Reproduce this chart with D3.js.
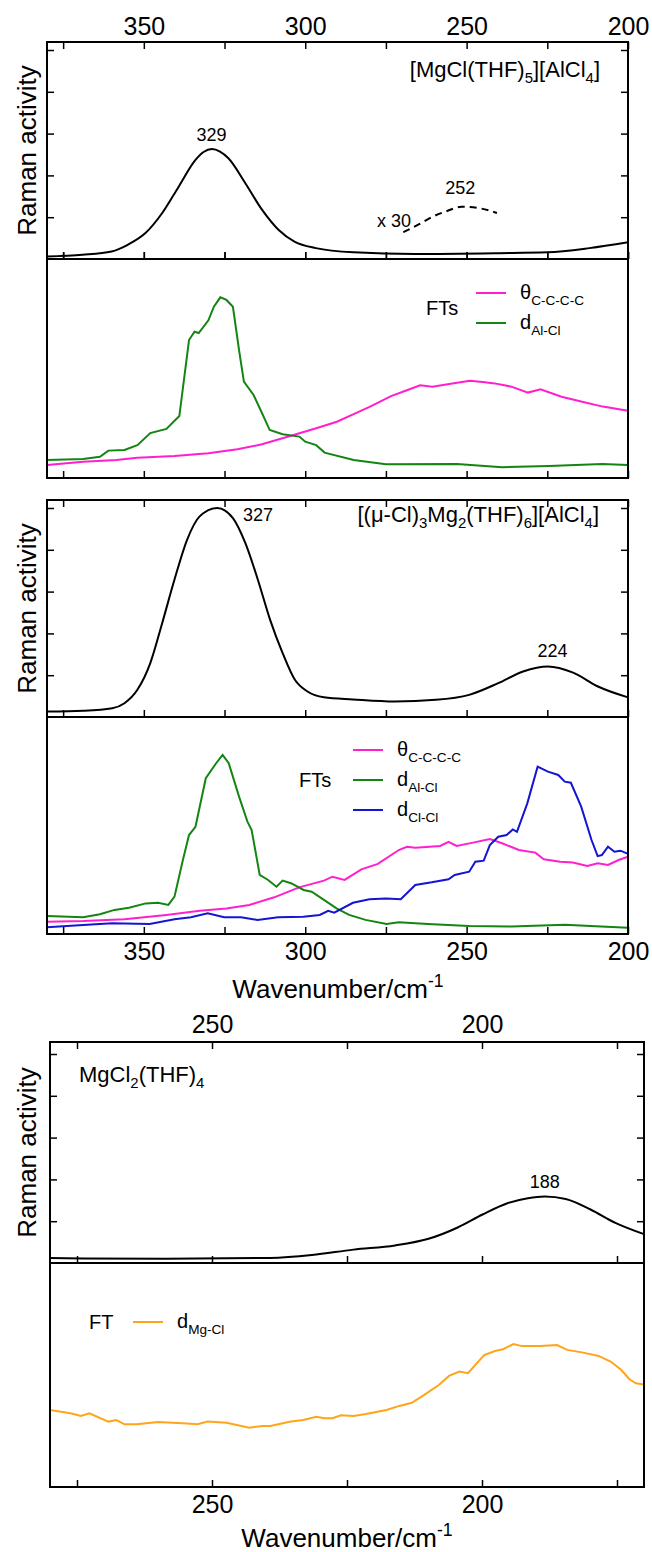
<!DOCTYPE html>
<html lang="en">
<head>
<meta charset="utf-8">
<title>Raman activity and FTs</title>
<script src="https://d3js.org/d3.v7.min.js"></script>
<style>
  body { margin: 0; background: #fff; font-family: "Liberation Sans", Arial, sans-serif; }
  .tick line { stroke: #000; stroke-width: 1.5; }
  .tick text { fill: #000; font-family: "Liberation Sans", Arial, sans-serif; }
</style>
</head>
<body>
<div id="vis"></div>
<script>
// tick values
const upperTicks = [375, 350, 325, 300, 275, 250, 225, 200];
const upperLabels = [350, 300, 250, 200];
const lowerTicks = [275, 250, 225, 200, 175];
const lowerLabels = [250, 200];
const ramanTicks = [1, 2, 3, 4, 5];

// [wavenumber, value]
// [MgCl(THF)5][AlCl4] Raman
const ramanMono = [[380,0.06],[369,0.1],[360,0.18],[355,0.34],[349.5,0.62],[344.3,1.1],[339.2,1.73],[334,2.37],
  [331.5,2.56],[328.9,2.63],[326.4,2.57],[323.8,2.41],[318.6,1.82],[313.4,1.18],[308.3,0.7],[303.2,0.41],
  [296.7,0.26],[285,0.16],[266,0.12],[240,0.14],[225,0.16],[212,0.26],[200,0.4]];
const ramanMonoX30 = [[269.6,0.64],[265,0.82],[260.6,1.01],[256,1.15],[251.6,1.25],[246.4,1.22],[240.6,1.1]];

// FTs for the same compound (0..100)
const ftTheta1 = [[380,5.9],[368.8,7.4],[358.5,8.2],[352,9.3],[340.5,10],[330,11.3],[321,13.1],[313.4,15.4],
  [304.4,19.3],[296.6,22.7],[290.2,25.7],[285,29.2],[279.9,32.6],[273.4,37.4],[268.3,40.2],[264.4,42.3],
  [260.6,41.7],[255.4,42.9],[249,44.4],[245,43.8],[241.3,43.2],[236.1,41.7],[231,39],[227.1,40.5],
  [220.6,37.1],[214.2,34.8],[207.8,32.6],[200,30.7]];
const ftAlCl1 = [[380,8.2],[368.8,8.7],[363.6,9.7],[361,12.5],[356,12.8],[352,15],[348,20.5],[343,22.4],
  [339,28.3],[336,63],[334.3,66.8],[333,66.2],[330,72],[328.3,78.2],[326.3,82.5],[324.4,81.3],[322.4,78.2],
  [320.5,58.4],[319,44],[316,37.9],[313.4,29.7],[311,21.9],[307,20],[301.8,18.9],[300,16.6],[296.6,15],
  [294,11.6],[285,8.2],[275,6.3],[253,6.4],[239,4.9],[224.5,5.5],[208,6.4],[200,5.9]];

// [(mu-Cl)3Mg2(THF)6][AlCl4] Raman
const ramanDimer = [[380,0.13],[368.8,0.15],[359.8,0.21],[356,0.33],[352,0.65],[348,1.29],[344.3,2.25],
  [340.5,3.29],[336.6,4.24],[332.7,4.8],[327.3,5.0],[322.4,4.76],[318.6,4.17],[314.7,3.29],[310.9,2.33],
  [307,1.53],[303.2,0.89],[299.3,0.61],[294.2,0.47],[285.2,0.42],[272.3,0.37],[259.5,0.41],[249.2,0.53],
  [240.2,0.81],[232.5,1.09],[224.8,1.21],[217,1.06],[209.3,0.73],[200,0.47]];

// FTs for the dimer
const ftTheta2 = [[380,5.7],[368.8,6],[356,6.8],[343,8.8],[332.7,10.7],[324.4,11.7],[317.3,13.4],[309.6,16.9],
  [301.9,21.5],[294.2,24.6],[291.6,26.4],[287.8,24.9],[282.6,29.8],[277.5,32.3],[271,38.7],[268.5,40.2],
  [265.9,39.8],[258.2,40.6],[255.6,42.5],[253.1,40.6],[248,42.1],[242.8,43.8],[239,41.8],[233.8,38.7],
  [228.7,37.5],[226.1,34.4],[221,33.3],[217.1,32.9],[212.6,31.3],[209.4,32.6],[206.2,31.8],[202.9,34.1],[200,35.6]];
const ftAlCl2 = [[380,8.3],[368.8,7.7],[363.6,9.1],[359.1,11.1],[354.6,12.1],[349.4,14.1],[345.6,14.4],
  [342.4,13.4],[340.5,17.2],[337.9,34.1],[336,45.6],[334,49.4],[330.8,71.8],[327.6,78.7],[325.6,82.5],
  [323.7,78.7],[320.5,63.3],[317.9,51.8],[316.6,47.9],[314.1,27.2],[311.5,24.9],[308.9,21.8],[307,24.6],
  [304.4,23.4],[300.5,20.3],[298,19.5],[294.2,15.7],[290.3,11.8],[286.4,8.8],[281.3,6.5],[274.8,4.6],
  [271,5.4],[262,4.6],[249.2,3.7],[236.1,3.4],[219.5,4.3],[211.7,3.7],[200,2.9]];
const ftClCl2 = [[380,3.1],[368.8,4.1],[359.8,4.9],[348.2,4.6],[340.5,6.8],[335.4,7.7],[330.2,9.5],[325.1,7.7],
  [319.9,7.7],[314.8,6.5],[308.4,7.7],[300.6,8],[295.5,8.8],[292.9,10.7],[291,9.8],[285.2,14.4],[280.1,16],
  [274.9,16.4],[270.4,16],[265.9,22.6],[260.8,23.8],[255.6,25.2],[253.7,27.2],[249.2,28.7],[247.3,33.3],
  [244.7,33.8],[242.8,41],[240.2,44.8],[237.6,45.6],[235.7,48.2],[234.4,47.1],[231.2,60.2],[228,77.1],
  [224.8,74.8],[221.6,73.3],[219.6,70.2],[217.7,69.7],[214.5,58.7],[211.3,43.3],[209.4,35.9],[208.1,36.4],
  [206.2,40.2],[204.2,37.9],[202.3,38.4],[200,36.9]];

// MgCl2(THF)4 Raman
const ramanMgCl2 = [[280,0.12],[273.9,0.11],[258.5,0.1],[239.2,0.12],[231.5,0.19],[223.8,0.32],[216.1,0.42],
  [209.9,0.58],[204.5,0.85],[199.9,1.16],[195.3,1.43],[191.5,1.55],[188.4,1.59],[184.5,1.53],[179.9,1.28],
  [175.3,0.96],[170,0.69]];
// FT Mg-Cl
const ftMgCl = [[280,34.4],[276.2,32.9],[274.3,31.7],[272.7,32.9],[269.2,29.2],[267.7,29.9],[266.2,28],
  [263.9,28],[260,29],[254.6,28.4],[252.7,28],[250.8,29.2],[247.3,28.7],[243.1,26.5],[240.7,27.2],
  [239.2,27.2],[235.4,29.2],[233.1,29.9],[230.7,31.4],[229.2,30.7],[227.7,30.7],[226.1,32],[223.8,31.7],
  [221.5,32.6],[217.7,34.4],[215.3,36.2],[213,37.6],[210.7,41.1],[208,45.5],[206.1,49.6],[204.2,51.5],
  [202.6,50.8],[199.6,58.9],[197.6,60.7],[196.1,61.5],[194.2,63.8],[192.6,62.9],[189.2,62.9],[186.1,63.4],
  [184.2,61.2],[181.5,60.1],[178.4,58.5],[176.1,55.9],[174.2,52.2],[172.7,48.1],[171.5,46.3],[170,45.8]];

const colTheta = '#ff1fcc';
const colAlCl = '#138513';
const colClCl = '#1414d2';
const colMgCl = '#ffa51a';

const svg = d3.select('#vis').append('svg')
  .attr('width', 652)
  .attr('height', 1552);

const xUp = d3.scaleLinear().domain([380, 200]).range([47, 628]);
const xLo = d3.scaleLinear().domain([280, 170]).range([50, 644]);

// writes a string with sub/superscripts into a text node
function rich(t, parts, size) {
  let shift = 0;
  parts.forEach(p => {
    const want = p[1] === 'sub' ? 6 : p[1] === 'sup' ? -11 : 0;
    t.append('tspan')
      .attr('dy', want - shift)
      .attr('font-size', p[1] ? size * 0.68 : size)
      .text(p[0]);
    shift = want;
  });
}

function frame(x, top, bottom) {
  svg.append('rect')
    .attr('x', x.range()[0]).attr('y', top)
    .attr('width', x.range()[1] - x.range()[0]).attr('height', bottom - top)
    .attr('fill', 'none').attr('stroke', '#000').attr('stroke-width', 2);
}

function noDomain(g) { g.select('.domain').remove(); }

function ramanPanel(x, top, bottom, ticks, data) {
  const y = d3.scaleLinear().domain([0, (bottom - top) / 41.8]).range([bottom, top]);
  svg.append('g').attr('transform', `translate(${x.range()[0]},0)`)
    .call(d3.axisLeft(y).tickValues(ramanTicks).tickSize(-7).tickFormat('')).call(noDomain);
  svg.append('g').attr('transform', `translate(${x.range()[1]},0)`)
    .call(d3.axisRight(y).tickValues(ramanTicks).tickSize(-7).tickFormat('')).call(noDomain);
  svg.append('g').attr('transform', `translate(0,${bottom})`)
    .call(d3.axisBottom(x).tickValues(ticks).tickSize(-7).tickFormat('')).call(noDomain);
  svg.append('path')
    .datum(data)
    .attr('fill', 'none').attr('stroke', '#000').attr('stroke-width', 2)
    .attr('d', d3.line().x(d => x(d[0])).y(d => y(d[1])).curve(d3.curveMonotoneX));
  svg.append('text')
    .attr('transform', `translate(36,${(top + bottom) / 2}) rotate(-90)`)
    .attr('text-anchor', 'middle')
    .attr('font-size', 26)
    .text('Raman activity');
  frame(x, top, bottom);
  return y;
}

function ftPanel(x, top, bottom, series) {
  const y = d3.scaleLinear().domain([0, 100]).range([bottom, top]);
  series.forEach(s => {
    svg.append('path')
      .datum(s.data)
      .attr('fill', 'none').attr('stroke', s.color).attr('stroke-width', 2)
      .attr('d', d3.line().x(d => x(d[0])).y(d => y(d[1])));
  });
  frame(x, top, bottom);
  return y;
}

function legend(head, hx, hy, lx, ly, series) {
  svg.append('text').attr('x', hx).attr('y', hy).attr('font-size', 20).text(head);
  series.forEach((s, i) => {
    const yy = ly + i * 30;
    svg.append('line').attr('x1', lx).attr('x2', lx + 30).attr('y1', yy).attr('y2', yy)
      .attr('stroke', s.color).attr('stroke-width', 2);
    const t = svg.append('text').attr('x', lx + 44).attr('y', yy + 6);
    rich(t, [[s.sym], [s.sub, 'sub']], 20);
  });
}

function note(x, y, wn, v, txt, dx, dy, anchor) {
  svg.append('text')
    .attr('x', x(wn) + dx).attr('y', y(v) + dy)
    .attr('text-anchor', anchor || 'middle')
    .attr('font-size', 18)
    .text(txt);
}

// ---------- upper figure ----------
const y1 = ramanPanel(xUp, 42, 259, upperTicks, ramanMono);
svg.append('g').attr('transform', 'translate(0,42)')
  .call(d3.axisTop(xUp).tickValues(upperTicks).tickSize(-7).tickFormat('')).call(noDomain);
svg.append('g').attr('transform', 'translate(0,42)')
  .call(d3.axisTop(xUp).tickValues(upperLabels).tickSize(0).tickPadding(7)).call(noDomain)
  .selectAll('text').attr('font-size', 25);
svg.append('path')
  .datum(ramanMonoX30)
  .attr('fill', 'none').attr('stroke', '#000').attr('stroke-width', 2).attr('stroke-dasharray', '7,5')
  .attr('d', d3.line().x(d => xUp(d[0])).y(d => y1(d[1])).curve(d3.curveMonotoneX));
note(xUp, y1, 329, 2.63, '329', 0, -8);
note(xUp, y1, 252, 1.25, '252', 0, -13);
note(xUp, y1, 270, 0.64, 'x 30', -25, -5, 'start');
rich(svg.append('text').attr('x', 600).attr('y', 77).attr('text-anchor', 'end'),
  [['[MgCl(THF)'], ['5', 'sub'], ['][AlCl'], ['4', 'sub'], [']']], 22);

const s2 = [
  { sym: 'θ', sub: 'C-C-C-C', color: colTheta, data: ftTheta1 },
  { sym: 'd', sub: 'Al-Cl', color: colAlCl, data: ftAlCl1 }
];
ftPanel(xUp, 259, 478, s2);
svg.append('g').attr('transform', 'translate(0,259)')
  .call(d3.axisBottom(xUp).tickValues(upperTicks).tickSize(-7).tickFormat('')).call(noDomain);
svg.append('g').attr('transform', 'translate(0,478)')
  .call(d3.axisBottom(xUp).tickValues(upperTicks).tickSize(-7).tickFormat('')).call(noDomain);
legend('FTs', 426, 315, 476, 293, s2);

const y3 = ramanPanel(xUp, 500, 717, upperTicks, ramanDimer);
svg.append('g').attr('transform', 'translate(0,500)')
  .call(d3.axisTop(xUp).tickValues(upperTicks).tickSize(-7).tickFormat('')).call(noDomain);
note(xUp, y3, 327, 5.0, '327', 40, 13);
note(xUp, y3, 224, 1.21, '224', 2, -9);
rich(svg.append('text').attr('x', 599).attr('y', 522).attr('text-anchor', 'end'),
  [['[(μ-Cl)'], ['3', 'sub'], ['Mg'], ['2', 'sub'], ['(THF)'], ['6', 'sub'], ['][AlCl'], ['4', 'sub'], [']']], 22);

const s4 = [
  { sym: 'θ', sub: 'C-C-C-C', color: colTheta, data: ftTheta2 },
  { sym: 'd', sub: 'Al-Cl', color: colAlCl, data: ftAlCl2 },
  { sym: 'd', sub: 'Cl-Cl', color: colClCl, data: ftClCl2 }
];
ftPanel(xUp, 717, 934, s4);
svg.append('g').attr('transform', 'translate(0,934)')
  .call(d3.axisBottom(xUp).tickValues(upperTicks).tickSize(-7).tickFormat('')).call(noDomain);
svg.append('g').attr('transform', 'translate(0,934)')
  .call(d3.axisBottom(xUp).tickValues(upperLabels).tickSize(0).tickPadding(8)).call(noDomain)
  .selectAll('text').attr('font-size', 25);
legend('FTs', 299, 787, 353, 750, s4);
rich(svg.append('text').attr('x', 338).attr('y', 998).attr('text-anchor', 'middle'),
  [['Wavenumber/cm'], ['-1', 'sup']], 26);

// ---------- lower figure ----------
const y5 = ramanPanel(xLo, 1042, 1263, lowerTicks, ramanMgCl2);
svg.append('g').attr('transform', 'translate(0,1042)')
  .call(d3.axisTop(xLo).tickValues(lowerTicks).tickSize(-7).tickFormat('')).call(noDomain);
svg.append('g').attr('transform', 'translate(0,1042)')
  .call(d3.axisTop(xLo).tickValues(lowerLabels).tickSize(0).tickPadding(9)).call(noDomain)
  .selectAll('text').attr('font-size', 25);
note(xLo, y5, 188, 1.59, '188', -2, -9);
rich(svg.append('text').attr('x', 79).attr('y', 1082),
  [['MgCl'], ['2', 'sub'], ['(THF)'], ['4', 'sub']], 22);

const s6 = [{ sym: 'd', sub: 'Mg-Cl', color: colMgCl, data: ftMgCl }];
ftPanel(xLo, 1263, 1487, s6);
svg.append('g').attr('transform', 'translate(0,1487)')
  .call(d3.axisBottom(xLo).tickValues(lowerTicks).tickSize(-7).tickFormat('')).call(noDomain);
svg.append('g').attr('transform', 'translate(0,1487)')
  .call(d3.axisBottom(xLo).tickValues(lowerLabels).tickSize(0).tickPadding(8)).call(noDomain)
  .selectAll('text').attr('font-size', 25);
legend('FT', 89, 1329, 133, 1322, s6);
rich(svg.append('text').attr('x', 347).attr('y', 1547).attr('text-anchor', 'middle'),
  [['Wavenumber/cm'], ['-1', 'sup']], 26);
</script>
</body>
</html>
